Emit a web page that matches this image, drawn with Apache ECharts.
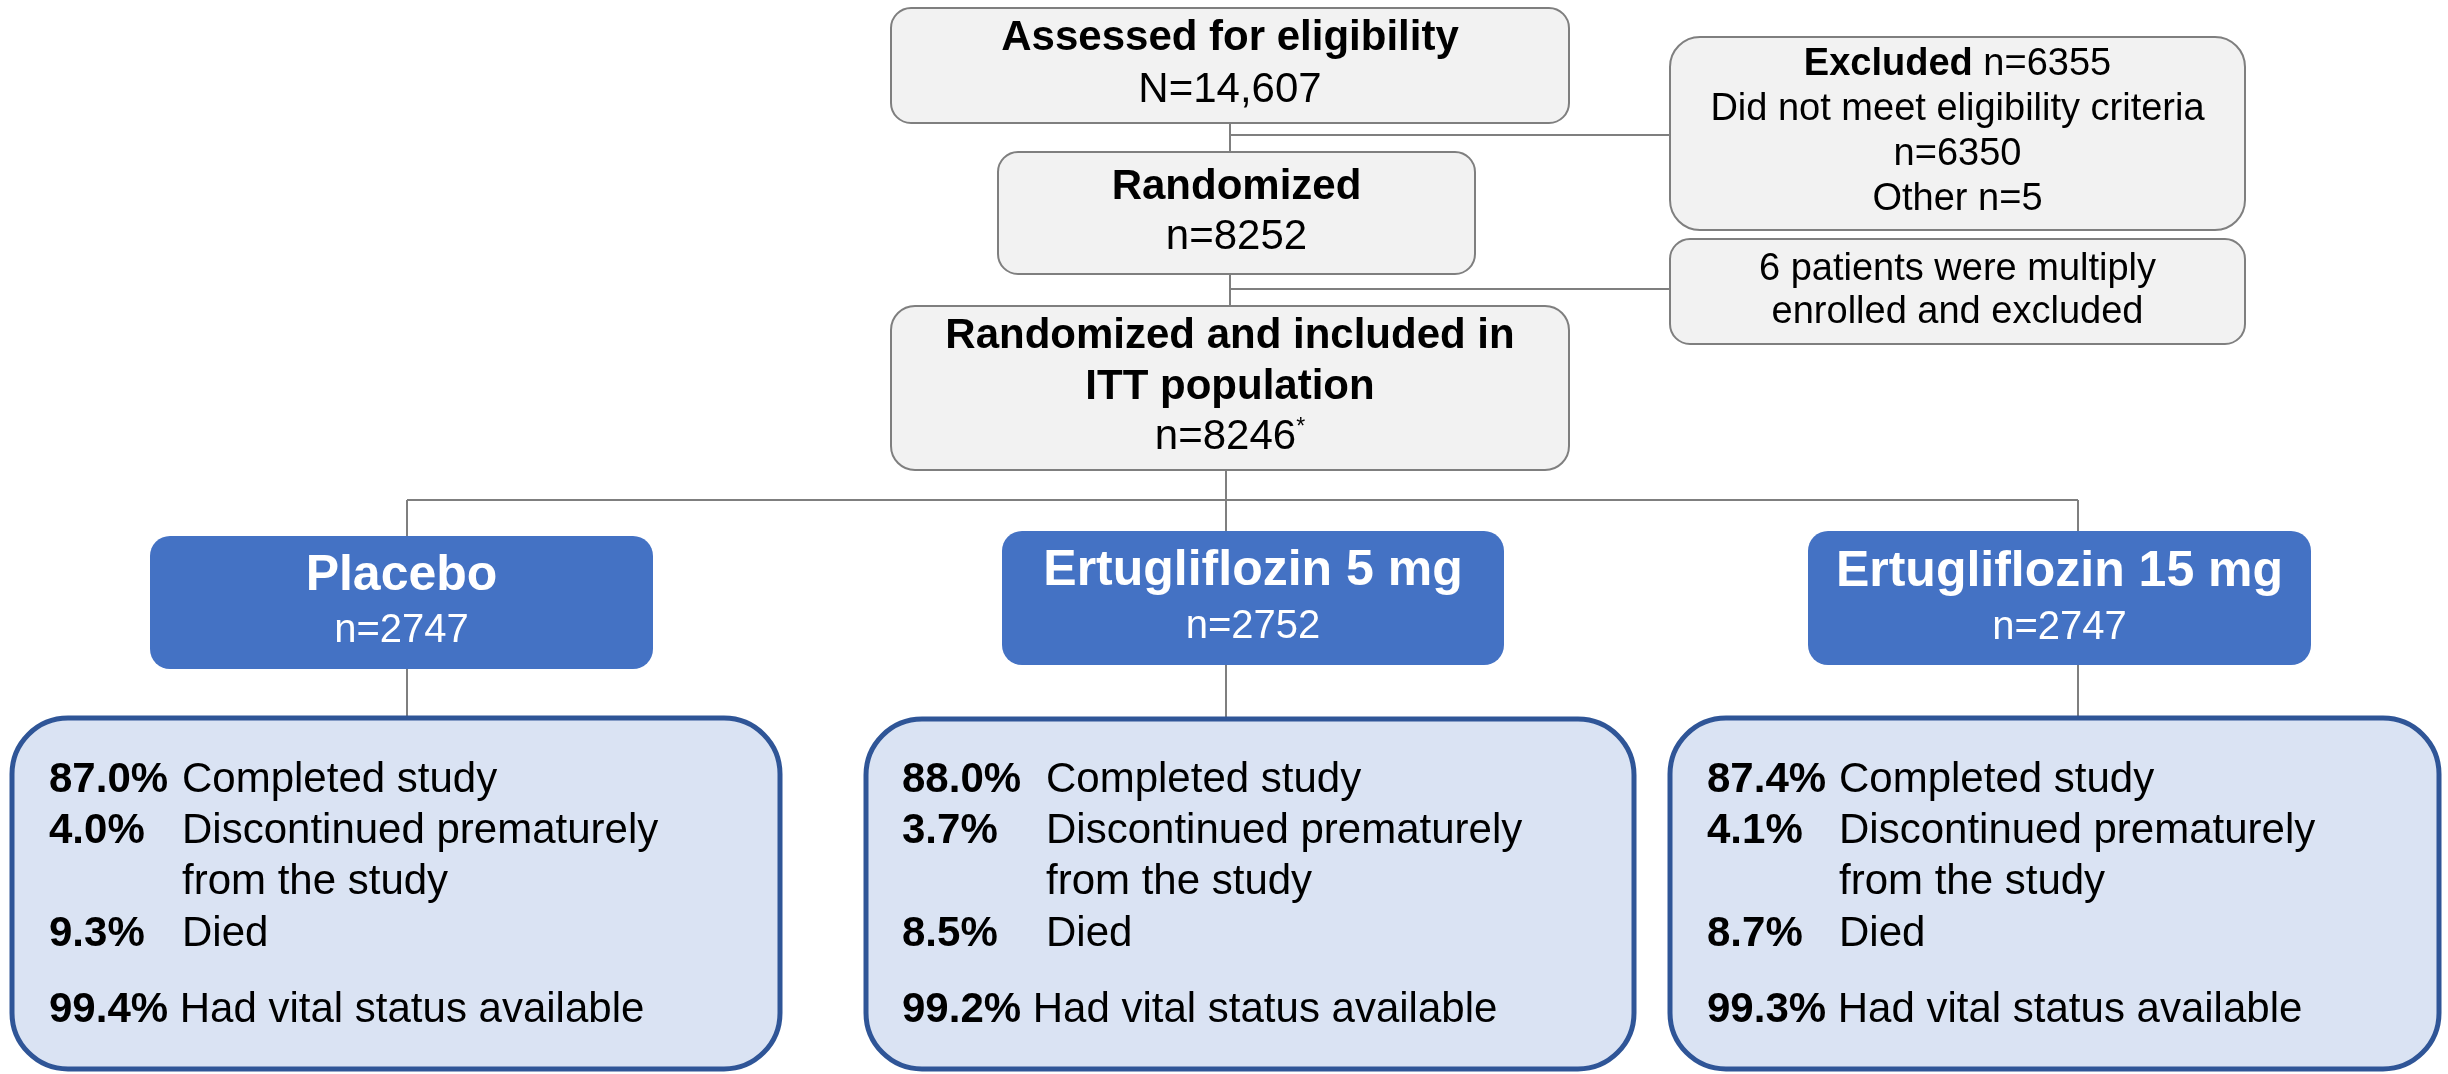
<!DOCTYPE html>
<html><head><meta charset="utf-8">
<script src="https://cdn.jsdelivr.net/npm/echarts@6/dist/echarts.min.js"></script>
<style>html,body{margin:0;padding:0;background:#fff}#c{width:2448px;height:1074px}</style>
</head><body><div id="c"></div>
<script>
// ---------------- DATA ----------------
const flowTitles = ['Assessed for eligibility', 'Randomized', 'Randomized and included in\nITT population'];
const flowCounts = ['N=14,607', 'n=8252', 'n=8246'];
const flowCountNotes = ['', '', '*'];
const excludedTitle = 'Excluded';
const excludedTotal = 6355;
const excludedReasons = ['Did not meet eligibility criteria', 'Other'];
const excludedReasonCounts = [6350, 5];
const duplicateCount = 6;
const duplicateText = ['patients were multiply', 'enrolled and excluded'];
const arms = ['Placebo', 'Ertugliflozin 5 mg', 'Ertugliflozin 15 mg'];
const armCounts = [2747, 2752, 2747];
const outcomeLabels = ['Completed study', 'Discontinued prematurely\nfrom the study', 'Died', 'Had vital status available'];
const completedPct = [87.0, 88.0, 87.4];
const discontinuedPct = [4.0, 3.7, 4.1];
const diedPct = [9.3, 8.5, 8.7];
const vitalStatusPct = [99.4, 99.2, 99.3];

// ---------------- LAYOUT / STYLE ----------------
const W = 2448, H = 1074;
const FONT = '"Liberation Sans", Arial, sans-serif';
const GRAY = {fill: '#f2f2f2', stroke: '#7f7f7f', lineWidth: 2};
const BLUE = {fill: '#4472c4'};
const LIGHT = {fill: '#dae3f3', stroke: '#2f5597', lineWidth: 5};
const LINE_COLOR = '#7f7f7f';
const flowRects = [[891, 8, 1569, 123], [998, 152, 1475, 274], [891, 306, 1569, 470]];
const flowRadius = [20, 20, 24];
const flowBaselines = [[53, 105], [202, 252], [351, 402, 452]];
const excludedRect = [1670, 37, 2245, 230];
const excludedBaselines = [78, 123, 168, 213];
const duplicateRect = [1670, 239, 2245, 344];
const duplicateBaselines = [283, 326];
const armRects = [[150, 536, 653, 669], [1002, 531, 1504, 665], [1808, 531, 2311, 665]];
const armBaselines = [[594, 645], [589, 641], [590, 642]];
const outcomeRects = [[12, 718, 780, 1069], [866, 719, 1634, 1069], [1670, 718, 2439, 1069]];
const outcomePctX = [49, 902, 1707];
const outcomeLabelX = [182, 1046, 1839];
const outcomeBaselines = [795, 846, 897, 949, 1025];
const connectors = [
  [[1230, 123], [1230, 152]], [[1230, 135], [1670, 135]],
  [[1230, 274], [1230, 306]], [[1230, 289], [1670, 289]],
  [[1226, 470], [1226, 531]], [[407, 500], [2078, 500]],
  [[407, 500], [407, 536]], [[2078, 500], [2078, 531]],
  [[407, 669], [407, 718]], [[1226, 665], [1226, 719]], [[2078, 665], [2078, 718]]
];
const FS_FLOW = 42, FS_SIDE = 38, FS_ARM = 50, FS_ARMN = 40, FS_OUT = 42;

// ---------------- HELPERS ----------------
function rectEl(api, r, style, radius) {
  const a = api.coord([r[0], r[1]]), b = api.coord([r[2], r[3]]);
  return {type: 'rect', silent: true,
    shape: {x: a[0], y: a[1], width: b[0] - a[0], height: b[1] - a[1], r: radius},
    style: Object.assign({}, style)};
}
function richStyles(fs, color) {
  const base = {fontSize: fs, fontFamily: FONT, fill: color, lineHeight: fs};
  return {
    b: Object.assign({}, base, {fontWeight: 'bold'}),
    r: Object.assign({}, base, {fontWeight: 'normal'}),
    sup: {fontSize: Math.round(fs * 0.55), fontFamily: FONT, fill: color, lineHeight: fs, verticalAlign: 'top'}
  };
}
function textEl(api, x, baseline, text, o) {
  const fs = o.fontSize, color = o.color || '#000';
  const p = api.coord([x, baseline]);
  return {type: 'text', silent: true, x: p[0], y: p[1] - 0.3465 * fs,
    style: {text: text, fill: color, fontSize: fs, fontFamily: FONT,
      fontWeight: o.bold ? 'bold' : 'normal', align: o.align || 'center',
      verticalAlign: 'middle', lineHeight: fs, rich: richStyles(fs, color)}};
}
const cx = r => (r[0] + r[2]) / 2;
const pct = v => v.toFixed(1) + '%';

// ---------------- SERIES ----------------
const flowSeries = {
  type: 'custom', coordinateSystem: 'cartesian2d', clip: false,
  data: flowTitles.map((t, i) => [i, i]),
  renderItem: function (params, api) {
    const i = params.dataIndex, r = flowRects[i], bl = flowBaselines[i];
    const children = [rectEl(api, r, GRAY, flowRadius[i])];
    const titleLines = flowTitles[i].split('\n');
    titleLines.forEach((ln, k) => children.push(textEl(api, cx(r), bl[k], ln, {fontSize: FS_FLOW, bold: true})));
    const countText = flowCountNotes[i] ? '{r|' + flowCounts[i] + '}{sup|' + flowCountNotes[i] + '}' : flowCounts[i];
    children.push(textEl(api, cx(r), bl[titleLines.length], countText, {fontSize: FS_FLOW}));
    return {type: 'group', children: children};
  }
};

const sideSeries = {
  type: 'custom', coordinateSystem: 'cartesian2d', clip: false,
  data: [[0, 0], [1, 1]],
  renderItem: function (params, api) {
    const children = [];
    if (params.dataIndex === 0) {
      children.push(rectEl(api, excludedRect, GRAY, 30));
      const lines = [
        '{b|' + excludedTitle + '}{r| n=' + excludedTotal + '}',
        excludedReasons[0],
        'n=' + excludedReasonCounts[0],
        excludedReasons[1] + ' n=' + excludedReasonCounts[1]
      ];
      lines.forEach((ln, k) => children.push(textEl(api, cx(excludedRect), excludedBaselines[k], ln, {fontSize: FS_SIDE})));
    } else {
      children.push(rectEl(api, duplicateRect, GRAY, 20));
      const lines = [duplicateCount + ' ' + duplicateText[0], duplicateText[1]];
      lines.forEach((ln, k) => children.push(textEl(api, cx(duplicateRect), duplicateBaselines[k], ln, {fontSize: FS_SIDE})));
    }
    return {type: 'group', children: children};
  }
};

const connectorSeries = {
  type: 'custom', coordinateSystem: 'cartesian2d', clip: false, z: 1,
  data: connectors.map((c, i) => [i, i]),
  renderItem: function (params, api) {
    const c = connectors[params.dataIndex];
    const a = api.coord(c[0]), b = api.coord(c[1]);
    return {type: 'line', silent: true, shape: {x1: a[0], y1: a[1], x2: b[0], y2: b[1]},
      style: {stroke: LINE_COLOR, lineWidth: 2}};
  }
};

const armSeries = {
  type: 'custom', coordinateSystem: 'cartesian2d', clip: false, z: 3,
  data: arms.map((a, i) => [i, armCounts[i]]),
  renderItem: function (params, api) {
    const i = params.dataIndex, r = armRects[i], bl = armBaselines[i];
    return {type: 'group', children: [
      rectEl(api, r, BLUE, 20),
      textEl(api, cx(r), bl[0], arms[i], {fontSize: FS_ARM, bold: true, color: '#fff'}),
      textEl(api, cx(r), bl[1], 'n=' + api.value(1), {fontSize: FS_ARMN, color: '#fff'})
    ]};
  }
};

const outcomeSeries = {
  type: 'custom', coordinateSystem: 'cartesian2d', clip: false, z: 3,
  data: arms.map((a, i) => [i, completedPct[i], discontinuedPct[i], diedPct[i], vitalStatusPct[i]]),
  renderItem: function (params, api) {
    const i = params.dataIndex, r = outcomeRects[i];
    const children = [rectEl(api, r, LIGHT, 56)];
    const values = [api.value(1), api.value(2), api.value(3)];
    let slot = 0;
    values.forEach((v, k) => {
      children.push(textEl(api, outcomePctX[i], outcomeBaselines[slot], pct(v), {fontSize: FS_OUT, bold: true, align: 'left'}));
      outcomeLabels[k].split('\n').forEach(ln => {
        children.push(textEl(api, outcomeLabelX[i], outcomeBaselines[slot], ln, {fontSize: FS_OUT, align: 'left'}));
        slot++;
      });
    });
    children.push(textEl(api, outcomePctX[i], outcomeBaselines[slot],
      '{b|' + pct(api.value(4)) + '}{r| ' + outcomeLabels[3] + '}', {fontSize: FS_OUT, align: 'left'}));
    return {type: 'group', children: children};
  }
};

const chart = echarts.init(document.getElementById('c'), null, {renderer: 'canvas', width: W, height: H});
chart.setOption({
  backgroundColor: '#ffffff',
  animation: false,
  grid: {left: 0, right: 0, top: 0, bottom: 0},
  xAxis: {type: 'value', min: 0, max: W, show: false},
  yAxis: {type: 'value', min: 0, max: H, inverse: true, show: false},
  tooltip: {show: false},
  series: [connectorSeries, flowSeries, sideSeries, armSeries, outcomeSeries]
});
</script></body></html>
